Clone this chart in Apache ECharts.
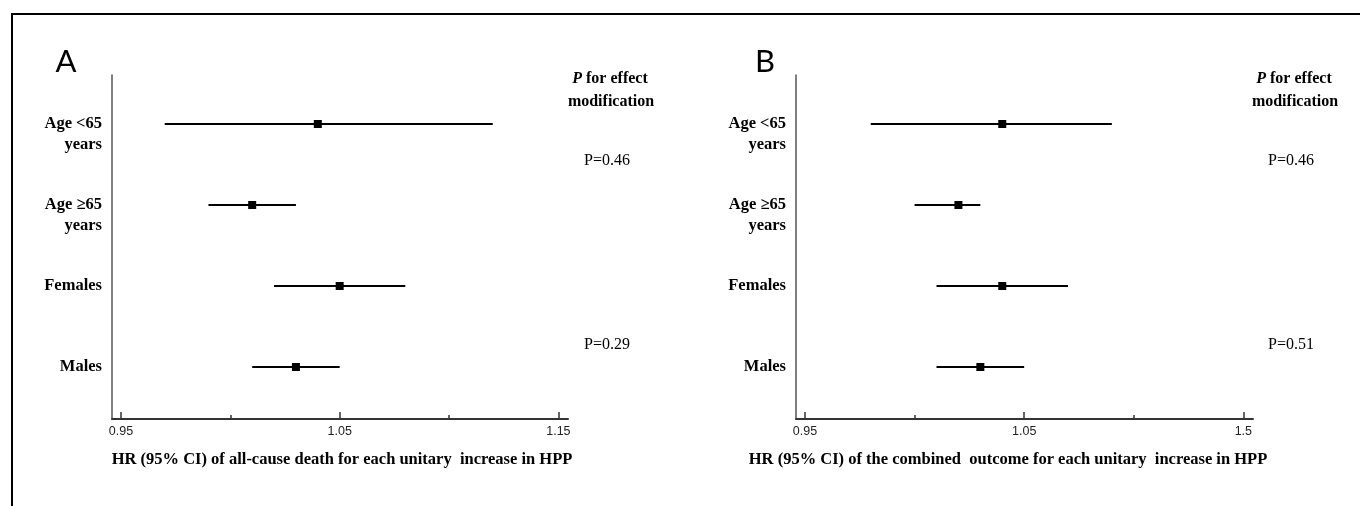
<!DOCTYPE html>
<html><head><meta charset="utf-8">
<script src="https://cdn.jsdelivr.net/npm/echarts@6/dist/echarts.min.js"></script>
<style>html,body{margin:0;padding:0;background:#fff}#c{width:1360px;height:506px}</style>
</head><body><div id="c"></div>
<script>
// ---- data ----
const subgroups = ['Age <65\nyears', 'Age \u226565\nyears', 'Females', 'Males'];
const hrA   = [1.04, 1.01, 1.05, 1.03];
const lowA  = [0.97, 0.99, 1.02, 1.01];
const highA = [1.12, 1.03, 1.08, 1.05];
const hrB   = [1.04, 1.02, 1.04, 1.03];
const lowB  = [0.98, 1.00, 1.01, 1.01];
const highB = [1.09, 1.03, 1.07, 1.05];
const pValuesA = ['P=0.46', 'P=0.29'];
const pValuesB = ['P=0.46', 'P=0.51'];
const majorTicks = [0.95, 1.05, 1.15];
const tickLabelsA = ['0.95', '1.05', '1.15'];
const tickLabelsB = ['0.95', '1.05', '1.5'];
const allTicks = [0.95, 1.00, 1.05, 1.10, 1.15];
const rowValues = [0, 1, 2, 3];
const titleA = 'HR (95% CI) of all-cause death for each unitary  increase in HPP';
const titleB = 'HR (95% CI) of the combined  outcome for each unitary  increase in HPP';
const pHeader1 = '{i|P} for effect';
const pHeader2 = 'modification';

// ---- chart ----
const serif = '"Liberation Serif", "Times New Roman", serif';
const sans = '"Liberation Sans", Arial, sans-serif';
const XMIN = 0.9459, XMAX = 1.1544;

function rows(lo, hi, hr) { return rowValues.map(i => [i, lo[i], hi[i], hr[i]]); }
function renderCI(params, api) {
  const y = api.value(0);
  const lo = api.coord([api.value(1), y]);
  const hi = api.coord([api.value(2), y]);
  const pt = api.coord([api.value(3), y]);
  return { type: 'group', children: [
    { type: 'line', shape: { x1: lo[0], y1: lo[1], x2: hi[0], y2: hi[1] }, style: { stroke: '#000', lineWidth: 2 } },
    { type: 'rect', shape: { x: pt[0] - 4, y: pt[1] - 4, width: 8, height: 8 }, style: { fill: '#000' } }
  ]};
}
function findLabel(v, labels) {
  const i = majorTicks.findIndex(t => Math.abs(t - v) < 1e-6);
  return i >= 0 ? labels[i] : '';
}
function xAxesFor(gridIndex, labels) {
  return [
    { type: 'value', gridIndex, min: XMIN, max: XMAX, position: 'bottom',
      axisLine: { show: true, onZero: false, lineStyle: { color: '#333', width: 2 } },
      axisTick: { show: true, inside: true, length: 4, customValues: allTicks, lineStyle: { color: '#333', width: 1.5 } },
      axisLabel: { show: false }, splitLine: { show: false } },
    { type: 'value', gridIndex, min: XMIN, max: XMAX, position: 'bottom',
      axisLine: { show: false, onZero: false },
      axisTick: { show: true, inside: true, length: 7, customValues: majorTicks, lineStyle: { color: '#333', width: 1.5 } },
      axisLabel: { show: true, customValues: majorTicks, margin: 6, color: '#222', fontFamily: sans, fontSize: 12.5,
        formatter: v => findLabel(v, labels) },
      splitLine: { show: false } }
  ];
}
function yAxisFor(gridIndex) {
  return { type: 'value', gridIndex, inverse: true, min: -0.605, max: 3.642,
    axisLine: { show: true, onZero: false, lineStyle: { color: '#555', width: 1.5 } },
    axisTick: { show: false }, splitLine: { show: false },
    axisLabel: { show: true, customValues: rowValues, margin: 10, color: '#000', fontFamily: serif,
      fontWeight: 'bold', fontSize: 16.5, lineHeight: 21, align: 'right',
      formatter: v => { const s = subgroups[Math.round(v)] || ''; return s.indexOf('\n') >= 0 ? '\n' + s : s; } } };
}
function txt(text, x, y, font, extra) {
  return Object.assign({ type: 'text', x, y, silent: true,
    style: { text, fill: '#000', font, textAlign: 'center', textVerticalAlign: 'middle' } }, extra || {});
}

const chart = echarts.init(document.getElementById('c'), null, { renderer: 'canvas' });
chart.setOption({
  animation: false,
  backgroundColor: '#fff',
  grid: [
    { left: 112, top: 75, width: 456, height: 344 },
    { left: 796, top: 75, width: 457, height: 344 }
  ],
  xAxis: [...xAxesFor(0, tickLabelsA), ...xAxesFor(1, tickLabelsB)],
  yAxis: [yAxisFor(0), yAxisFor(1)],
  series: [
    { type: 'custom', xAxisIndex: 0, yAxisIndex: 0, renderItem: renderCI, encode: { x: [1, 2, 3], y: 0 }, data: rows(lowA, highA, hrA) },
    { type: 'custom', xAxisIndex: 2, yAxisIndex: 1, renderItem: renderCI, encode: { x: [1, 2, 3], y: 0 }, data: rows(lowB, highB, hrB) }
  ],
  graphic: [
    { type: 'rect', silent: true, shape: { x: 12, y: 14, width: 1500, height: 700 }, style: { fill: null, stroke: '#000', lineWidth: 2 } },
    txt('A', 66, 62, '31px Lato, "Liberation Sans", sans-serif'),
    txt('B', 765, 62, '31px Lato, "Liberation Sans", sans-serif'),
    { type: 'text', x: 610, y: 79, silent: true, style: { text: pHeader1, fill: '#000', font: 'bold 16px ' + serif, textAlign: 'center', textVerticalAlign: 'middle', rich: { i: { fontStyle: 'italic', fontWeight: 'bold', fontSize: 16, fontFamily: serif } } } },
    txt(pHeader2, 611, 102, 'bold 16px ' + serif),
    { type: 'text', x: 1294, y: 79, silent: true, style: { text: pHeader1, fill: '#000', font: 'bold 16px ' + serif, textAlign: 'center', textVerticalAlign: 'middle', rich: { i: { fontStyle: 'italic', fontWeight: 'bold', fontSize: 16, fontFamily: serif } } } },
    txt(pHeader2, 1295, 102, 'bold 16px ' + serif),
    txt(pValuesA[0], 607, 161, '16px ' + serif),
    txt(pValuesA[1], 607, 345, '16px ' + serif),
    txt(pValuesB[0], 1291, 161, '16px ' + serif),
    txt(pValuesB[1], 1291, 345, '16px ' + serif),
    txt(titleA, 342, 460, 'bold 16.5px ' + serif),
    txt(titleB, 1008, 460, 'bold 16.5px ' + serif)
  ]
});
</script>
</body></html>
